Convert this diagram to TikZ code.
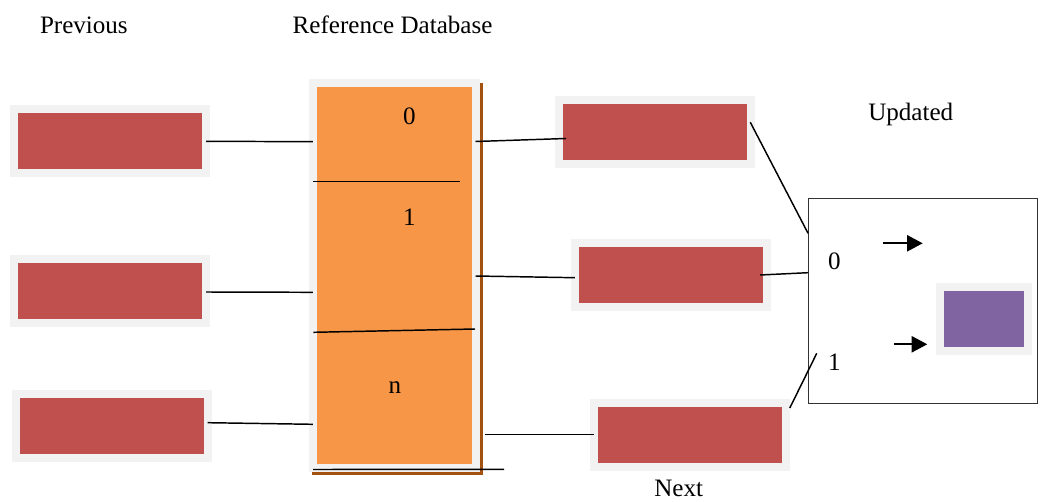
\documentclass[tikz,border=0pt]{standalone}
\usepackage{fontspec}
\setmainfont{Liberation Serif}
\usetikzlibrary{arrows.meta,calc}
\definecolor{boxred}{HTML}{C0504D}
\definecolor{dborange}{HTML}{F79646}
\definecolor{boxpurple}{HTML}{8064A2}
\definecolor{framegray}{HTML}{F2F2F2}
\definecolor{shadowbrown}{HTML}{A4520F}
\tikzset{
  lbl/.style={font=\fontsize{18.8}{22}\selectfont, inner sep=0pt, outer sep=0pt, anchor=base},
  lblw/.style={lbl, anchor=base west},
  framed/.style={draw=framegray, line width=6pt, inner sep=0pt, outer sep=0pt},
  recbox/.style={framed, fill=boxred, minimum width=144pt, minimum height=48pt},
  conn/.style={draw=black, line width=1.1pt},
  ptr/.style={draw=black, line width=1.7pt, -{Triangle[length=11.7pt,width=12pt]}}
}
\begin{document}
\begin{tikzpicture}[x=0.75pt,y=-0.75pt]
\useasboundingbox[fill=white] (0,0) rectangle (1041,502);

% titles
\node[lblw] (tprev) at (40,33.3) {Previous};
\node[lblw] (tref) at (292.7,33.3) {Reference Database};
\node[lblw] (tupd) at (868.3,120.7) {Updated};
\node[lblw] (tnext) at (654.3,496.5) {Next};

% reference database
\draw[shadowbrown, line width=2.6pt] (312,473.3) -- (481.5,473.3) -- (481.5,82.7);
\node[framed, fill=dborange, minimum width=121.95pt, minimum height=288.75pt] (DB) at (394.2,275.5) {};
\draw[conn] (313.3,181.7) -- (460,181.7);
\draw[conn] (313.3,332.3) -- (475,329);
\draw[conn] (313,469.5) -- (504,469.3);
\node[lbl] (d0) at (409.3,124.3) {0};
\node[lbl] (d1) at (409.3,225) {1};
\node[lbl] (dn) at (395,393.3) {n};

% previous boxes
\node[recbox] (L1) at (110,141.3) {};
\node[recbox] (L2) at (110,291) {};
\node[recbox] (L3) at (111.7,426.3) {};

% next boxes
\node[recbox] (R1) at (655,132.2) {};
\node[recbox] (R2) at (670.8,275) {};
\node[recbox] (R3) at (689.8,435) {};

% updated box
\node[draw=black!80, line width=0.75pt, inner sep=0pt, outer sep=0pt, minimum width=172pt, minimum height=153.75pt] (U) at (922.7,300.8) {};
\node[lbl] (u0) at (834.3,269.3) {0};
\node[lbl] (u1) at (834.3,370) {1};
\node[framed, fill=boxpurple, minimum width=66pt, minimum height=47.8pt] (P) at (983.7,318.8) {};

% connectors previous -> database
\draw[conn] (L1.east) -- ($(L1.east -| DB.west)+(0,0.4)$);
\draw[conn] ($(L2.east)+(0,1)$) -- ($(L2.east -| DB.west)+(0,1.3)$);
\draw[conn] ($(L3.east)+(0,-3.6)$) -- ($(L3.east -| DB.west)+(0,-2)$);

% connectors database -> next
\draw[conn] ($(DB.east |- R1.west)+(0,9.3)$) -- ($(R1.west)+(7,6.3)$);
\draw[conn] ($(DB.east |- R2.west)+(0,1)$) -- ($(R2.west)+(0,2.7)$);
\draw[conn] ($(DB.east |- R3.west)+(9.5,-0.7)$) -- ($(R3.west)+(0,-0.7)$);

% connectors next -> updated
\draw[conn] ($(R1.east)+(-0.7,-9.9)$) -- ($(U.north west)+(0,35)$);
\draw[conn] ($(R2.east)+(-6.7,0)$) -- ($(U.north west)+(0,74.4)$);
\draw[conn] ($(R3.north east)+(4,5)$) -- ($(U.south west)+(8.7,-50)$);

% pointers
\coordinate (a1s) at (883.3,243.3);
\coordinate (a1e) at (922.7,243.3);
\coordinate (a2s) at (894,344.3);
\draw[ptr] (a1s) -- (a1e);
\draw[ptr] (a2s) -- ($(P.west)+(-12.4,25.5)$);
\end{tikzpicture}
\end{document}
